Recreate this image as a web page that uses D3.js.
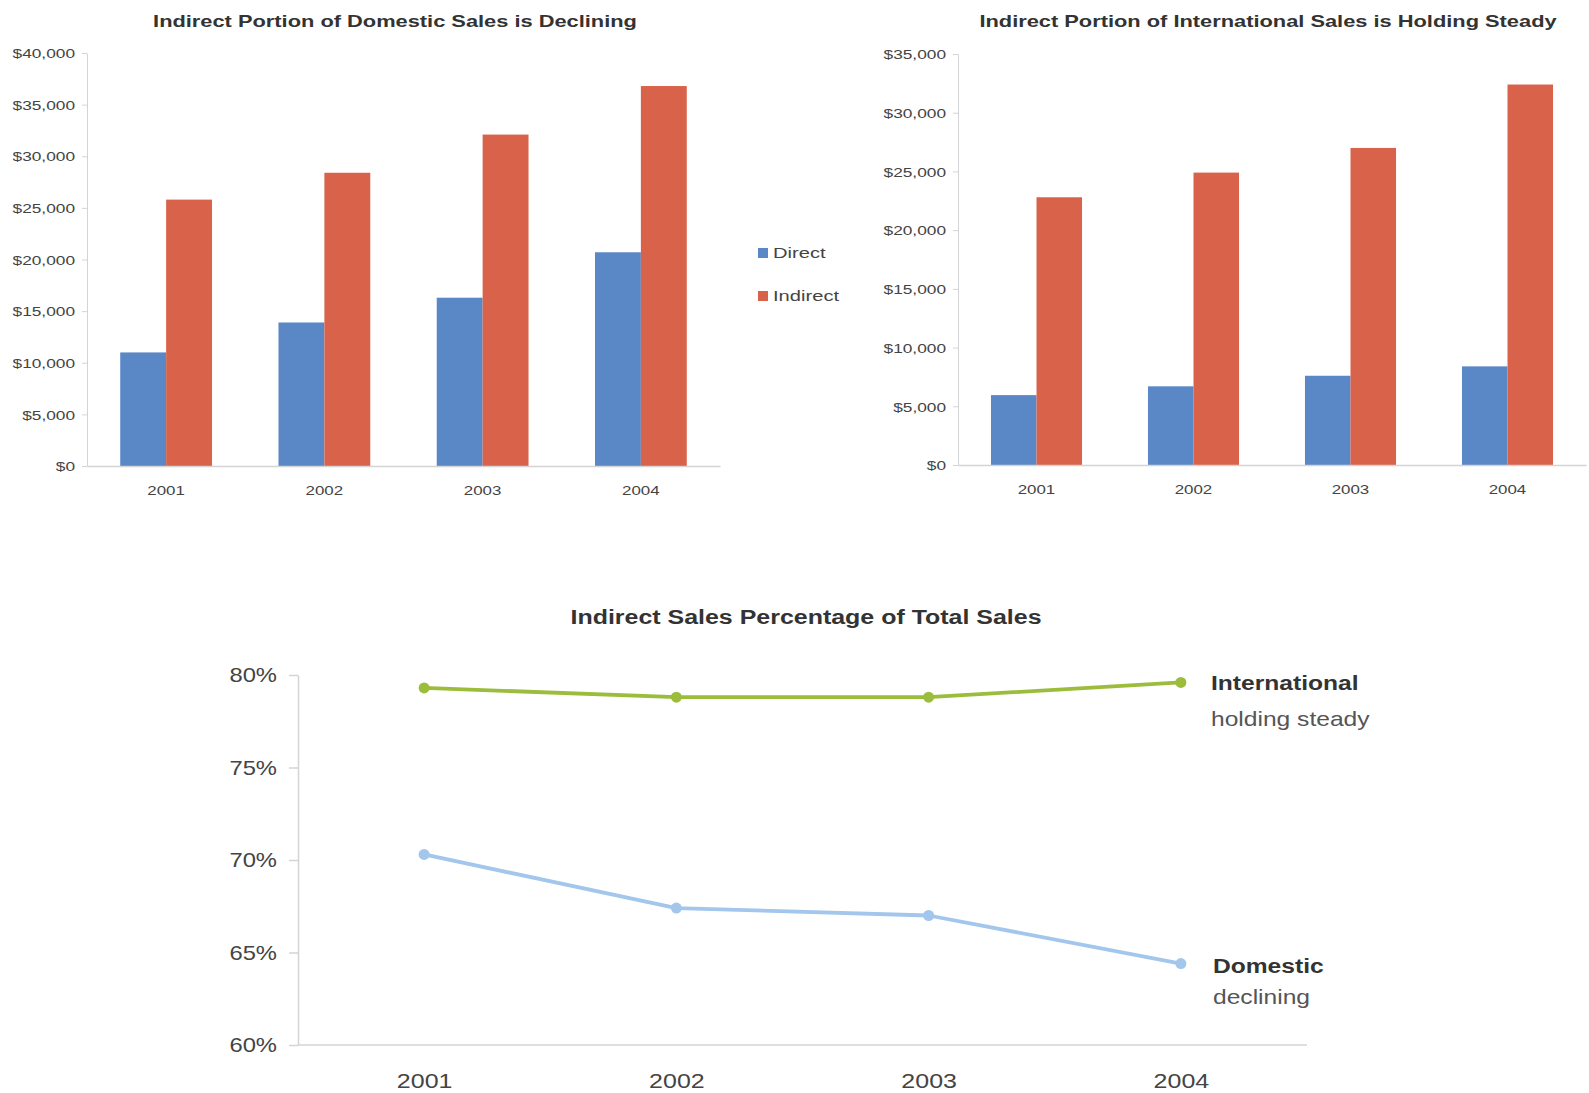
<!DOCTYPE html>
<html>
<head>
<meta charset="utf-8">
<script src="https://cdn.jsdelivr.net/npm/d3@7"></script>
<style>
  html, body { margin: 0; padding: 0; background: #fff; }
  svg text { font-family: "Liberation Sans", Arial, sans-serif; }
</style>
</head>
<body>
<svg id="chart" width="1589" height="1093"></svg>
<script>
// ---- data ----
const years = ["2001", "2002", "2003", "2004"];
const seriesNames = ["Direct", "Indirect"];
const domesticDirect = [11000, 13900, 16300, 20700];
const domesticIndirect = [25800, 28400, 32100, 36800];
const intlDirect = [5950, 6700, 7600, 8400];
const intlIndirect = [22800, 24900, 27000, 32400];
const domesticPct = [70.3, 67.4, 67.0, 64.4];
const intlPct = [79.3, 78.8, 78.8, 79.6];
const domesticTicks = [0, 5000, 10000, 15000, 20000, 25000, 30000, 35000, 40000];
const intlTicks = [0, 5000, 10000, 15000, 20000, 25000, 30000, 35000];
const pctTicks = [60, 65, 70, 75, 80];

const barColors = { Direct: "#5a87c6", Indirect: "#d9634a" };
const greenLine = "#9cbd3c";
const blueLine = "#a2c6ec";
const axisColor = "#d4d4d4";
const tickText = "#444";

const svg = d3.select("#chart");

function addText(g, x, y, str, opts) {
  const k = opts.k || 1;
  return g.append("text")
    .attr("transform", `translate(${x},${y}) scale(${k},1)`)
    .attr("text-anchor", opts.anchor || "start")
    .attr("dominant-baseline", "central")
    .attr("font-size", opts.size)
    .attr("font-weight", opts.weight || "normal")
    .attr("fill", opts.fill || "#333")
    .text(str);
}

function barChart(cfg) {
  const g = svg.append("g");
  const x = d3.scaleBand().domain(years).range([cfg.x0, cfg.x1])
    .paddingInner(0.42).paddingOuter(0.21);
  const xs = d3.scaleBand().domain(seriesNames).range([0, x.bandwidth()]);
  const y = d3.scaleLinear().domain([0, cfg.max]).range([cfg.yBottom, cfg.yTop]);
  const k = 1.3;

  const rows = years.map((yr, i) => ({ year: yr, Direct: cfg.direct[i], Indirect: cfg.indirect[i] }));
  g.selectAll("g.cat").data(rows).join("g")
    .attr("class", "cat")
    .attr("transform", d => `translate(${x(d.year)},0)`)
    .selectAll("rect").data(d => seriesNames.map(s => ({ key: s, value: d[s] }))).join("rect")
    .attr("x", d => xs(d.key))
    .attr("width", xs.bandwidth())
    .attr("y", d => y(d.value))
    .attr("height", d => y(0) - y(d.value))
    .attr("fill", d => barColors[d.key]);

  // y axis
  const yAxis = g.append("g").attr("transform", `translate(${cfg.x0},0)`)
    .call(d3.axisLeft(y).tickValues(cfg.ticks).tickSize(5).tickSizeOuter(0)
      .tickFormat(d => "$" + d3.format(",")(d)));
  yAxis.select(".domain").attr("stroke", axisColor);
  yAxis.selectAll(".tick line").attr("stroke", axisColor);
  yAxis.selectAll(".tick text")
    .attr("x", 0).attr("dy", null)
    .attr("transform", `translate(-12,0) scale(${k},1)`)
    .attr("dominant-baseline", "central")
    .attr("font-size", 13.3).attr("fill", tickText);

  // x axis
  const xAxis = g.append("g").attr("transform", `translate(0,${cfg.yBottom})`)
    .call(d3.axisBottom(x).tickSize(0).tickSizeOuter(0));
  xAxis.select(".domain").attr("stroke", axisColor).attr("stroke-width", 1.5);
  xAxis.selectAll(".tick text")
    .attr("y", 0).attr("dy", null)
    .attr("transform", `translate(0,24) scale(1.25,1)`)
    .attr("dominant-baseline", "central")
    .attr("font-size", 13.5).attr("fill", tickText);

  addText(g, cfg.titleX, cfg.titleY, cfg.title, { size: 16.8, weight: "bold", anchor: "middle", k: k, fill: "#333" });
}

barChart({
  x0: 87, x1: 720, yBottom: 466, yTop: 53, max: 40000,
  direct: domesticDirect, indirect: domesticIndirect, ticks: domesticTicks,
  title: "Indirect Portion of Domestic Sales is Declining", titleX: 395, titleY: 21
});
barChart({
  x0: 958, x1: 1586, yBottom: 465, yTop: 54, max: 35000,
  direct: intlDirect, indirect: intlIndirect, ticks: intlTicks,
  title: "Indirect Portion of International Sales is Holding Steady", titleX: 1268, titleY: 21
});

// legend
const leg = svg.append("g");
seriesNames.forEach((s, i) => {
  const cy = 253 + i * 43;
  leg.append("rect").attr("x", 758).attr("y", cy - 5).attr("width", 10).attr("height", 10).attr("fill", barColors[s]);
  addText(leg, 773, cy, s, { size: 15.5, k: 1.3, fill: "#444" });
});

// ---- line chart ----
const lg = svg.append("g");
const lx0 = 298, lx1 = 1307, ly0 = 1045, ly1 = 675;
const px = d3.scalePoint().domain(years).range([lx0, lx1]).padding(0.5);
const py = d3.scaleLinear().domain([60, 80]).range([ly0, ly1]);
const kb = 1.2;

const ya = lg.append("g").attr("transform", `translate(${lx0},0)`)
  .call(d3.axisLeft(py).tickValues(pctTicks).tickSize(9).tickSizeOuter(0).tickFormat(d => d + "%"));
ya.select(".domain").attr("stroke", axisColor).attr("stroke-width", 1.5);
ya.selectAll(".tick line").attr("stroke", axisColor).attr("stroke-width", 1.5);
ya.selectAll(".tick text")
  .attr("x", 0).attr("dy", null)
  .attr("transform", `translate(-21,0) scale(${kb},1)`)
  .attr("dominant-baseline", "central")
  .attr("font-size", 19.8).attr("fill", tickText);

const xa = lg.append("g").attr("transform", `translate(0,${ly0})`)
  .call(d3.axisBottom(px).tickSize(0).tickSizeOuter(0));
xa.select(".domain").attr("stroke", axisColor).attr("stroke-width", 1.5)
  .attr("d", `M${lx0},0H${lx1}`);
xa.selectAll(".tick text")
  .attr("y", 0).attr("dy", null)
  .attr("transform", `translate(0,36) scale(${kb},1)`)
  .attr("dominant-baseline", "central")
  .attr("font-size", 20.8).attr("fill", tickText);

const line = d3.line().x((d, i) => px(years[i])).y(d => py(d));
[[intlPct, greenLine], [domesticPct, blueLine]].forEach(([vals, col]) => {
  lg.append("path").datum(vals).attr("d", line)
    .attr("fill", "none").attr("stroke", col).attr("stroke-width", 3.8).attr("stroke-linejoin", "round");
  lg.selectAll(null).data(vals).join("circle")
    .attr("cx", (d, i) => px(years[i])).attr("cy", d => py(d)).attr("r", 5.5).attr("fill", col);
});

addText(lg, 806, 617, "Indirect Sales Percentage of Total Sales", { size: 20.8, weight: "bold", anchor: "middle", k: kb, fill: "#333" });
addText(lg, 1211, 683, "International", { size: 20.5, weight: "bold", k: kb, fill: "#333" });
addText(lg, 1211, 719, "holding steady", { size: 20.5, k: kb, fill: "#555" });
addText(lg, 1213, 966, "Domestic", { size: 20.5, weight: "bold", k: kb, fill: "#333" });
addText(lg, 1213, 997, "declining", { size: 20.5, k: kb, fill: "#555" });
</script>
</body>
</html>
